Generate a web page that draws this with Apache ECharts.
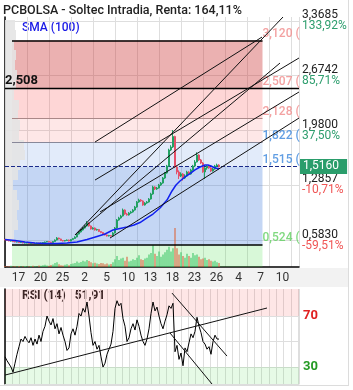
<!DOCTYPE html>
<html>
<head>
<meta charset="utf-8">
<script src="https://cdn.jsdelivr.net/npm/echarts@6/dist/echarts.min.js"></script>
<style>
  html, body { margin: 0; padding: 0; background: #fff; }
  #chart { width: 353px; height: 390px; }
</style>
</head>
<body>
<div id="chart"></div>
<script>
// x axis: one slot per candle, labels sit between the grid lines
const xTickPos = [6.75, 17.75, 28.75, 39.75, 50.75, 61.75, 72.75, 83.75, 94.75, 105.75, 116.75, 127.75, 138.75];
const xTickLabels = ['17', '20', '25', '2', '5', '10', '13', '18', '23', '26', '4', '7', '10'];

// right price scale
const priceTicks = [0.583, 1.2857, 1.98, 2.6742, 3.3685];
const pctTicks = ['-59,51%', '-10,71%', '37,50%', '85,71%', '133,92%'];

const opens = [
  0.590, 0.585, 0.579, 0.572, 0.572, 0.566, 0.560, 0.560, 0.553, 0.553,
  0.547, 0.547, 0.547, 0.541, 0.547, 0.541, 0.541, 0.547, 0.541, 0.547,
  0.553, 0.560, 0.566, 0.560, 0.553, 0.566, 0.585, 0.610, 0.598, 0.579,
  0.572, 0.579, 0.585, 0.572, 0.591, 0.604, 0.623, 0.661, 0.687, 0.712,
  0.737, 0.763, 0.801, 0.763, 0.725, 0.737, 0.712, 0.718, 0.693, 0.680,
  0.661, 0.649, 0.636, 0.642, 0.636, 0.674, 0.737, 0.839, 0.865, 0.890,
  0.966, 0.915, 0.903, 0.928, 0.941, 0.966, 1.004, 1.068, 1.093, 1.081,
  1.030, 1.055, 1.068, 1.106, 1.170, 1.259, 1.233, 1.246, 1.284, 1.309,
  1.373, 1.436, 1.525, 1.729, 1.767, 1.900, 1.513, 1.449, 1.398, 1.424,
  1.373, 1.398, 1.449, 1.424, 1.474, 1.525, 1.576, 1.665, 1.602, 1.563,
  1.450, 1.500, 1.525, 1.500, 1.462, 1.487, 1.525, 1.538
];
const closes = [
  0.585, 0.579, 0.572, 0.572, 0.566, 0.560, 0.560, 0.553, 0.553, 0.547,
  0.547, 0.547, 0.541, 0.547, 0.541, 0.541, 0.547, 0.541, 0.547, 0.553,
  0.560, 0.566, 0.560, 0.553, 0.566, 0.585, 0.610, 0.598, 0.579, 0.572,
  0.579, 0.585, 0.572, 0.591, 0.604, 0.623, 0.661, 0.687, 0.712, 0.737,
  0.763, 0.801, 0.763, 0.725, 0.737, 0.712, 0.718, 0.693, 0.680, 0.661,
  0.649, 0.636, 0.642, 0.636, 0.674, 0.737, 0.839, 0.865, 0.890, 0.966,
  0.915, 0.903, 0.928, 0.941, 0.966, 1.004, 1.068, 1.093, 1.081, 1.030,
  1.055, 1.068, 1.106, 1.170, 1.259, 1.233, 1.246, 1.284, 1.309, 1.373,
  1.436, 1.525, 1.729, 1.767, 1.900, 1.513, 1.449, 1.398, 1.424, 1.373,
  1.398, 1.449, 1.424, 1.474, 1.525, 1.576, 1.665, 1.602, 1.563, 1.450,
  1.500, 1.525, 1.500, 1.462, 1.487, 1.525, 1.538, 1.516
];
const lows = [
  0.583, 0.575, 0.569, 0.567, 0.562, 0.556, 0.555, 0.549, 0.548, 0.543,
  0.542, 0.542, 0.537, 0.537, 0.537, 0.536, 0.537, 0.537, 0.537, 0.543,
  0.549, 0.556, 0.556, 0.549, 0.549, 0.562, 0.580, 0.592, 0.574, 0.567,
  0.568, 0.574, 0.567, 0.568, 0.586, 0.600, 0.618, 0.655, 0.680, 0.705,
  0.730, 0.755, 0.755, 0.718, 0.718, 0.705, 0.705, 0.686, 0.672, 0.655,
  0.642, 0.630, 0.630, 0.630, 0.632, 0.668, 0.730, 0.830, 0.855, 0.882,
  0.905, 0.895, 0.895, 0.918, 0.932, 0.958, 0.995, 1.058, 1.070, 1.020,
  1.022, 1.045, 1.060, 1.098, 1.160, 1.220, 1.222, 1.238, 1.272, 1.300,
  1.362, 1.428, 1.515, 1.715, 1.755, 1.500, 1.420, 1.360, 1.385, 1.340,
  1.360, 1.390, 1.410, 1.415, 1.465, 1.515, 1.570, 1.590, 1.550, 1.440,
  1.360, 1.478, 1.490, 1.450, 1.455, 1.478, 1.515, 1.508
];
const highs = [
  0.594, 0.588, 0.582, 0.577, 0.575, 0.569, 0.565, 0.563, 0.558, 0.556,
  0.552, 0.553, 0.550, 0.551, 0.550, 0.546, 0.551, 0.550, 0.552, 0.558,
  0.565, 0.571, 0.570, 0.563, 0.572, 0.592, 0.622, 0.615, 0.602, 0.583,
  0.585, 0.592, 0.590, 0.598, 0.612, 0.632, 0.672, 0.698, 0.725, 0.750,
  0.778, 0.826, 0.810, 0.770, 0.748, 0.745, 0.728, 0.725, 0.700, 0.688,
  0.668, 0.656, 0.650, 0.648, 0.685, 0.750, 0.852, 0.880, 0.905, 0.985,
  0.975, 0.930, 0.940, 0.955, 0.978, 1.018, 1.080, 1.110, 1.105, 1.090,
  1.066, 1.080, 1.118, 1.185, 1.275, 1.268, 1.260, 1.298, 1.322, 1.385,
  1.450, 1.540, 1.745, 1.790, 1.983, 1.910, 1.530, 1.470, 1.445, 1.435,
  1.420, 1.465, 1.460, 1.490, 1.540, 1.600, 1.700, 1.675, 1.615, 1.575,
  1.510, 1.538, 1.535, 1.510, 1.500, 1.540, 1.555, 1.548
];
const volumes = [
  0.6, 0.4, 0.5, 0.8, 0.4, 0.5, 0.3, 0.6, 0.4, 0.5, 0.7, 0.4, 0.5, 0.6, 0.8, 0.5, 0.4, 1.0,
  0.8, 1.2, 1.5, 1.0, 0.8, 1.3, 1.6, 2.5, 3.0, 1.8, 1.2, 1.0, 1.4, 1.8, 1.2, 2.0, 2.2, 2.6,
  3.5, 2.8, 3.2, 4.0, 3.6, 4.5, 3.8, 3.0, 2.4, 2.8, 2.2, 2.0, 2.6, 2.4, 1.8, 2.2, 1.6, 2.0, 3.0,
  5.0, 7.0, 4.5, 5.5, 6.0, 4.0, 6.5, 3.5, 4.0, 5.0, 4.5,
  6.0, 7.5, 5.0, 4.5, 5.5, 6.0, 8.0, 9.0, 14.0, 8.5, 7.0, 10.0, 6.5, 8.0, 9.5,
  11.0, 13.0, 10.0, 12.0, 25.0,
  12.0, 8.0, 9.5, 7.0, 6.0, 8.5, 7.0, 6.0, 9.0, 7.5, 8.0, 6.5, 5.0, 5.5, 6.0, 4.5, 5.0, 4.0, 3.5, 4.0, 3.0, 2.5
];
// SMA(100) vertices [slot, price]
const sma100 = [
  [0, 0.591], [5, 0.579], [10, 0.560], [15, 0.547], [20, 0.541], [26, 0.541], [31, 0.547],
  [36, 0.560], [41, 0.591], [46, 0.630], [50, 0.661], [54, 0.712], [57.5, 0.731], [61, 0.750],
  [64.5, 0.776], [67.5, 0.807], [71, 0.865], [74, 0.915], [77.5, 0.992], [81, 1.093],
  [83.5, 1.208], [85.5, 1.284], [87.5, 1.335], [90, 1.386], [92.5, 1.430], [95, 1.475],
  [97.5, 1.513], [100, 1.538], [101.5, 1.538], [103, 1.525], [104.5, 1.506], [107, 1.487]
];
const rsi14 = [
  38, 35, 36, 30, 26, 33, 40, 46, 52, 50, 54, 51, 49, 53, 47, 52, 48, 55, 50, 58,
  62, 70, 66, 63, 68, 60, 64, 56, 61, 55, 50, 43, 45, 56, 60, 55, 62, 72, 70, 76,
  73, 81, 70, 57, 47, 50, 44, 47, 38, 30, 33, 40, 44, 48, 58, 76, 82, 78, 80, 68,
  62, 50, 53, 60, 64, 59, 67, 62, 55, 50, 47, 52, 60, 72, 81, 74, 77, 70, 64, 60,
  66, 71, 78, 76, 80, 42, 47, 36, 41, 31, 45, 42, 49, 56, 53, 58, 69, 62, 57, 50,
  48, 44, 46, 40, 50, 55, 52, 51.9
];

const fibLevels = [3.120, 2.507, 2.128, 1.822, 1.515, 0.524];
const fibText = ['3,120 (', '2,507 (', '2,128 (', '1,822 (', '1,515 (', '0,524 ('];
const fibStart = 3.5, fibEnd = 128.75;
const lastPrice = 1.516, lastPriceText = '1,5160';
const hLevel = 2.508, hLevelText = '2,508';
const lastRsi = 51.915, lastRsiText = '51,915';

// trend lines [slot, price]
const trendLines = [
  [[45, 1.830], [128.5, 3.164]],
  [[35, 0.649], [139, 3.419]],
  [[35, 0.649], [137.5, 2.834]],
  [[47.5, 0.941], [147, 2.466]],
  [[45, 1.347], [147, 2.898]],
  [[52.5, 0.610], [147, 2.135]]
];
const rsiLines = [
  [[0, 23.7], [131, 76.3]],
  [[83.5, 88.0], [111, 38.6]],
  [[82.5, 56.7], [103.5, 16.7]]
];
// volume-at-price profile, top to bottom
const vpWidths = [10, 11, 9, 11, 10, 12, 11, 9, 14, 13, 15, 14, 19, 20, 15, 13, 8, 12, 14, 12, 13, 9];

const yMin = 0.242, yMax = 3.419;
const UP = '#22a163', DOWN = '#e4516a';

const chart = echarts.init(document.getElementById('chart'));

const fmt = (v, d) => v.toFixed(d).replace('.', ',');
const fibLabelColor = ['#f08a8a', '#f08a8a', '#f08a8a', '#3a86dc', '#3a86dc', '#5fcf5f'];

const series = [
  {
    // Fibonacci zones and levels
    type: 'line', data: [], z: 1, silent: true,
    markArea: {
      silent: true,
      data: [
        [{ coord: [fibStart, 3.120], itemStyle: { color: 'rgba(200,40,40,0.36)' } }, { coord: [fibEnd, 2.507] }],
        [{ coord: [fibStart, 2.507], itemStyle: { color: 'rgba(250,60,60,0.21)' } }, { coord: [fibEnd, 2.128] }],
        [{ coord: [fibStart, 2.128], itemStyle: { color: 'rgba(250,60,60,0.12)' } }, { coord: [fibEnd, 1.822] }],
        [{ coord: [fibStart, 1.822], itemStyle: { color: 'rgba(60,120,220,0.15)' } }, { coord: [fibEnd, 1.515] }],
        [{ coord: [fibStart, 1.515], itemStyle: { color: 'rgba(60,120,220,0.30)' } }, { coord: [fibEnd, 0.524] }],
        [{ coord: [fibStart, 0.524], itemStyle: { color: 'rgba(60,220,60,0.20)' } }, { coord: [fibEnd, yMin] }]
      ]
    },
    markLine: {
      silent: true, symbol: ['none', 'none'], label: { show: false },
      data: [
        [{ coord: [fibStart, 3.120], lineStyle: { color: '#000', width: 1.5, type: 'solid' } }, { coord: [fibEnd, 3.120] }],
        [{ coord: [fibStart, 2.128], lineStyle: { color: '#a88', width: 1, type: 'solid' } }, { coord: [fibEnd, 2.128] }],
        [{ coord: [fibStart, 1.822], lineStyle: { color: '#889', width: 1, type: 'solid' } }, { coord: [fibEnd, 1.822] }],
        [{ coord: [fibStart, 0.524], lineStyle: { color: '#000', width: 1.5, type: 'solid' } }, { coord: [fibEnd, 0.524] }]
      ]
    }
  },
  {
    type: 'scatter', symbolSize: 0, z: 6, silent: true,
    data: fibLevels.map((v, i) => ({
      value: [fibEnd, v],
      label: { show: true, position: 'right', distance: 0, offset: [0, -7], formatter: fibText[i],
        color: fibLabelColor[i], fontSize: 12, fontWeight: 500 }
    }))
  },
  {
    type: 'bar', xAxisIndex: 0, yAxisIndex: 1, barWidth: 1.2, z: 2, silent: true,
    data: volumes.map((v, i) => ({ value: [i, v], itemStyle: { color: closes[i] >= opens[i] ? '#4ccb72' : '#d9714e' } }))
  },
  {
    type: 'candlestick', barWidth: 1.4, z: 5, silent: true,
    itemStyle: { color: UP, color0: DOWN, borderColor: UP, borderColor0: DOWN, borderWidth: 1 },
    data: opens.map((o, i) => [i, o, closes[i], lows[i], highs[i]])
  },
  {
    type: 'line', data: sma100, symbol: 'none', z: 6, silent: true,
    lineStyle: { color: '#1020f0', width: 1.5 }
  }
];

trendLines.forEach(seg => series.push({
  type: 'line', data: seg, symbol: 'none', z: 7, silent: true,
  lineStyle: { color: '#111', width: 1 }
}));

series.push({
  // horizontal level and last price
  type: 'line', data: [], z: 8, clip: false, silent: true,
  markLine: {
    silent: true, symbol: ['none', 'none'],
    data: [
      { yAxis: hLevel, lineStyle: { color: '#000', width: 1.3, type: 'solid' },
        label: { show: true, position: 'insideStartTop', formatter: hLevelText, color: '#111',
          fontSize: 13, fontWeight: 'bold', distance: [0, 1] } },
      { yAxis: lastPrice, lineStyle: { color: '#1a2a8a', width: 1, type: [4, 2] },
        label: { show: true, position: 'end', formatter: lastPriceText, distance: 1, color: '#fff',
          backgroundColor: '#2a9d6b', padding: [2, 8, 1, 3], fontSize: 12 } }
    ]
  }
});

// volume profile
series.push({
  type: 'bar', xAxisIndex: 2, yAxisIndex: 3, data: vpWidths, barCategoryGap: '0%', z: 4, silent: true,
  itemStyle: { color: 'rgba(228,228,228,0.9)' }
});

// RSI panel
series.push({
  type: 'line', xAxisIndex: 1, yAxisIndex: 2, symbol: 'none', z: 5, silent: true,
  data: rsi14.map((v, i) => [i, v]),
  lineStyle: { color: '#000', width: 1 },
  markArea: {
    silent: true,
    data: [
      [{ yAxis: 70, itemStyle: { color: 'rgba(250,60,60,0.13)' } }, { yAxis: 91.2 }],
      [{ yAxis: 16.7, itemStyle: { color: 'rgba(60,220,60,0.13)' } }, { yAxis: 30 }]
    ]
  }
});
rsiLines.forEach(seg => series.push({
  type: 'line', xAxisIndex: 1, yAxisIndex: 2, data: seg, symbol: 'none', z: 6, silent: true,
  lineStyle: { color: '#111', width: 1 }
}));
series.push({
  type: 'line', xAxisIndex: 1, yAxisIndex: 2, data: [], clip: false, silent: true, z: 8,
  markLine: {
    silent: true, symbol: ['none', 'none'],
    data: [{ yAxis: lastRsi, lineStyle: { opacity: 0 },
      label: { show: true, position: 'end', formatter: lastRsiText, distance: 1, color: '#fff',
        backgroundColor: '#111', padding: [2, 6, 1, 3], fontSize: 12 } }]
  }
});

const gridLine = { show: true, lineStyle: { color: '#dedede', width: 1 } };

const option = {
  animation: false,
  textStyle: { fontFamily: 'Roboto, sans-serif' },
  grid: [
    { left: 5, right: 54, top: 17, bottom: 123 },
    { left: 5, right: 54, top: 289, bottom: 6 },
    { left: 5, top: 20, width: 40, height: 220 }
  ],
  xAxis: [
    { type: 'value', gridIndex: 0, min: 0, max: 147, interval: 11,
      axisLine: { show: true, onZero: false, lineStyle: { color: '#000', width: 1.5 } },
      axisTick: { show: false }, splitLine: gridLine,
      axisLabel: { customValues: xTickPos, color: '#333', fontSize: 12, margin: 5,
        formatter: v => { const i = xTickPos.findIndex(p => Math.abs(p - v) < 1e-6); return i < 0 ? '' : xTickLabels[i]; } } },
    { type: 'value', gridIndex: 1, min: 0, max: 147, interval: 11 / 3,
      axisLine: { show: true, onZero: false, lineStyle: { color: '#ddd' } },
      axisTick: { show: false }, axisLabel: { show: false }, splitLine: gridLine },
    { type: 'value', gridIndex: 2, min: 0, max: 40, show: false }
  ],
  yAxis: [
    { type: 'value', gridIndex: 0, position: 'right', min: yMin, max: yMax,
      axisLine: { show: true, lineStyle: { color: '#000', width: 1.5 } },
      axisTick: { show: false, customValues: priceTicks }, splitLine: gridLine,
      axisLabel: { customValues: priceTicks, margin: 3, align: 'left',
        formatter: v => {
          const i = priceTicks.findIndex(p => Math.abs(p - v) < 1e-6);
          if (i < 0) return '';
          const k = pctTicks[i].startsWith('-') ? 'n' : 'g';
          return '{p|' + fmt(priceTicks[i], 4) + '}\n{' + k + '|' + pctTicks[i] + '}';
        },
        rich: {
          p: { color: '#222', fontSize: 12, lineHeight: 11 },
          g: { color: '#2e9e6e', fontSize: 12, lineHeight: 11 },
          n: { color: '#f05555', fontSize: 12, lineHeight: 11 }
        } } },
    { type: 'value', gridIndex: 0, min: 0, max: 160, show: false },
    { type: 'value', gridIndex: 1, position: 'right', min: 16.7, max: 91.2,
      axisLine: { show: true, lineStyle: { color: '#000', width: 1.5 } },
      axisTick: { show: false, customValues: [30, 50, 70] }, splitLine: gridLine,
      axisLabel: { customValues: [30, 70], margin: 4, fontSize: 13, fontWeight: 'bold',
        formatter: v => '{' + (v > 50 ? 'r' : 'gr') + '|' + v + '}',
        rich: { r: { color: '#e02020', fontSize: 13, fontWeight: 'bold' }, gr: { color: '#239a23', fontSize: 13, fontWeight: 'bold' } } } },
    { type: 'category', gridIndex: 2, inverse: true, show: false, data: vpWidths.map((_, i) => i) }
  ],
  graphic: [
    { type: 'rect', z: -1, shape: { x: 0, y: 268, width: 348, height: 19 }, style: { fill: '#f2f2f2' } },
    { type: 'line', shape: { x1: 348.5, y1: 0, x2: 348.5, y2: 386 }, style: { stroke: '#dcdcdc' } },
    { type: 'line', shape: { x1: 0, y1: 385.5, x2: 349, y2: 385.5 }, style: { stroke: '#dcdcdc' } },
    { type: 'text', left: 3, top: 4, style: { text: 'PCBOLSA - Soltec Intradia, Renta: 164,11%', fill: '#222',
      font: '500 12.5px Roboto, sans-serif' } },
    { type: 'text', left: 22, top: 22, style: { text: 'SMA (100)', fill: '#1a1ae6', font: '500 12px Roboto, sans-serif' } },
    { type: 'text', left: 22, top: 290, style: { text: 'RSI (14)   51,91', fill: '#222', font: 'bold 12px Roboto, sans-serif' } }
  ],
  series: series
};

chart.setOption(option);
</script>
</body>
</html>
